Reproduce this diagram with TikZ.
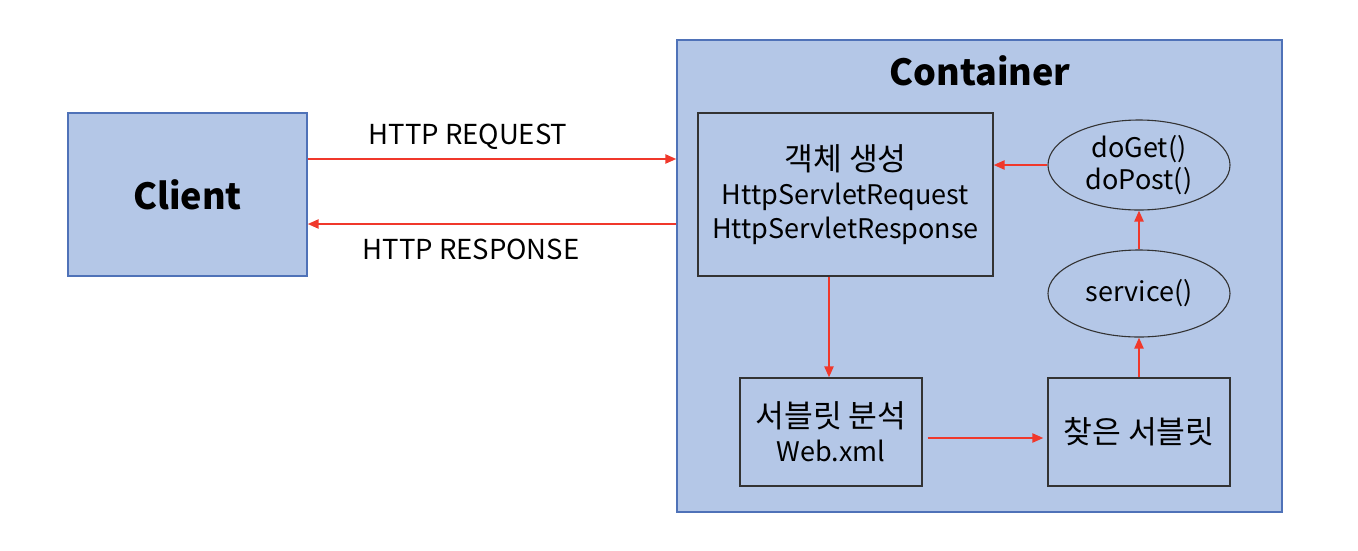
\documentclass[tikz,border=0pt]{standalone}
\usepackage{fontspec}
\setmainfont{Noto Sans CJK KR}
\newfontfamily\kr[Scale=1.16]{Noto Sans CJK KR}
\usetikzlibrary{arrows.meta,shapes.geometric}
\definecolor{boxfill}{HTML}{B4C7E7}
\definecolor{outerline}{HTML}{4F72B8}
\definecolor{innerline}{HTML}{333333}
\definecolor{arrowred}{HTML}{F0382B}
\tikzset{
  outerbox/.style={draw=outerline,line width=1.3pt,fill=boxfill,inner sep=0pt},
  innerbox/.style={draw=innerline,line width=1.2pt,fill=boxfill,inner sep=0pt,align=center,font=\fontsize{27}{34}\selectfont},
  oval/.style={ellipse,draw=innerline,line width=1.1pt,fill=boxfill,inner sep=0pt,align=center,font=\fontsize{27}{32}\selectfont},
  flow/.style={draw=arrowred,line width=2.2pt,-{Triangle[length=11pt,width=9pt]}},
  lbl/.style={font=\fontsize{27.5}{30}\selectfont,inner sep=0pt},
  title/.style={font=\fontsize{36}{40}\selectfont\bfseries,inner sep=0pt}
}
\begin{document}
\begin{tikzpicture}[x=1pt,y=-1pt]
\useasboundingbox[fill=white] (0,0) rectangle (1358,550);
% outer boxes
\node[outerbox,minimum width=239pt,minimum height=163pt] (client) at (187.5,194.5) {};
\node[title] (clienttxt) at (187.5,194.5) {Client};
\node[outerbox,minimum width=605pt,minimum height=472pt] (container) at (979.5,276) {};
\node[title] (containertxt) at (980,71) {Container};
% inner boxes
\node[innerbox,minimum width=295pt,minimum height=163pt] (obj) at (845.5,194.5) {\raisebox{0pt}{\kr 객체 생성}\\HttpServletRequest\\HttpServletResponse};
\node[innerbox,minimum width=182pt,minimum height=108pt] (ana) at (831,432) {{\kr 서블릿 분석}\\Web.xml};
\node[innerbox,minimum width=182pt,minimum height=108pt] (found) at (1139,432) {\kr 찾은 서블릿};
\node[oval,minimum width=182pt,minimum height=90pt] (doget) at (1139,165) {doGet()\\doPost()};
\node[oval,minimum width=182pt,minimum height=87pt] (service) at (1139,293.5) {service()};
% connectors
\draw[flow] ([yshift=35.5pt]client.east) -- ([yshift=35.5pt]client.east -| container.west) coordinate (reqend);
\draw[flow] ([yshift=-29.5pt]client.east -| container.west) coordinate (respstart) -- ([yshift=-29.5pt]client.east);
\node[lbl] (req) at (468,137) {HTTP REQUEST};
\node[lbl] (resp) at (471,249) {HTTP RESPONSE};
\draw[flow] ([xshift=-16.5pt]obj.south) -- ([xshift=-16.5pt]obj.south |- ana.north);
\draw[flow,shorten <=5pt,shorten >=4pt] ([yshift=-6pt]ana.east) -- ([yshift=-6pt]ana.east -| found.west);
\draw[flow] (found.north) -- (service.south);
\draw[flow] (service.north) -- (doget.south);
\draw[flow] (doget.west) -- (doget.west -| obj.east);
\end{tikzpicture}
\end{document}
